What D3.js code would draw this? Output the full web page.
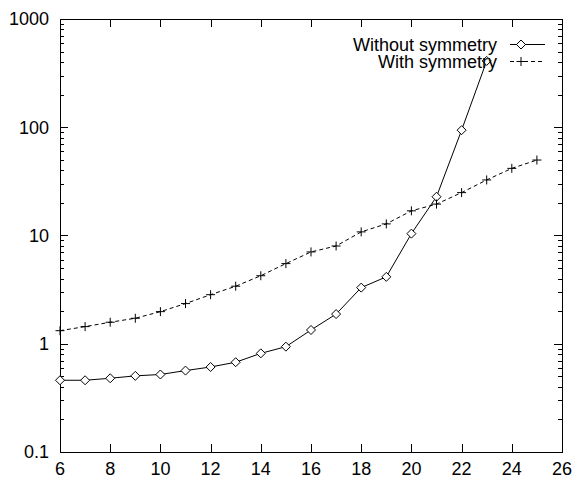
<!DOCTYPE html>
<html><head><meta charset="utf-8">
<script src="https://cdn.jsdelivr.net/npm/d3@7"></script>
<style>
body{margin:0;background:#fff;}
text{font-family:"Liberation Sans",Arial,Helvetica,sans-serif;font-size:18px;fill:#000;}
</style></head>
<body><svg id="c" width="575" height="479"></svg>
<script>
const xValues = [6,7,8,9,10,11,12,13,14,15,16,17,18,19,20,21,22,23,24,25];
const withoutSymmetry = [0.46,0.46,0.48,0.505,0.52,0.565,0.61,0.675,0.815,0.94,1.34,1.88,3.3,4.15,10.4,22.8,94,410];
const withSymmetry = [1.32,1.44,1.58,1.72,1.98,2.35,2.84,3.4,4.25,5.5,7.05,8.0,10.8,12.8,16.9,19.5,24.9,32.6,41.7,49.8];
const xTicks = [6,8,10,12,14,16,18,20,22,24,26];
const yTicks = [0.1,1,10,100,1000];
const yTickLabels = ["0.1","1","10","100","1000"];
const seriesNames = ["Without symmetry","With symmetry"];

const L=60,R=562,T=19,B=452;
const svg=d3.select("#c");
const x=d3.scaleLinear().domain([6,26]).range([L,R]);
const y=d3.scaleLog().domain([0.1,1000]).range([B,T]);

// minor ticks
const minors=[];
for(let e=-1;e<3;e++){for(let k=2;k<=9;k++)minors.push(k*Math.pow(10,e));}
const g=svg.append("g").attr("stroke","#000").attr("stroke-width",1).attr("shape-rendering","crispEdges");
minors.forEach(v=>{
  g.append("line").attr("x1",L).attr("x2",L+4).attr("y1",Math.round(y(v))+0.5).attr("y2",Math.round(y(v))+0.5);
  g.append("line").attr("x1",R-4).attr("x2",R).attr("y1",Math.round(y(v))+0.5).attr("y2",Math.round(y(v))+0.5);
});
yTicks.forEach(v=>{
  g.append("line").attr("x1",L).attr("x2",L+8).attr("y1",Math.round(y(v))+0.5).attr("y2",Math.round(y(v))+0.5);
  g.append("line").attr("x1",R-8).attr("x2",R).attr("y1",Math.round(y(v))+0.5).attr("y2",Math.round(y(v))+0.5);
});
xTicks.forEach(v=>{
  const px=Math.round(x(v))+0.5;
  g.append("line").attr("x1",px).attr("x2",px).attr("y1",B).attr("y2",B-8);
  g.append("line").attr("x1",px).attr("x2",px).attr("y1",T).attr("y2",T+8);
});
g.append("rect").attr("x",L+0.5).attr("y",T+0.5).attr("width",R-L).attr("height",B-T).attr("fill","none");

// tick labels
svg.append("g").selectAll("text").data(yTicks).join("text")
  .attr("x",49).attr("y",d=>y(d)).attr("dy","0.36em").attr("text-anchor","end")
  .text((d,i)=>yTickLabels[i]);
svg.append("g").selectAll("text").data(xTicks).join("text")
  .attr("x",d=>x(d)).attr("y",475).attr("text-anchor","middle").text(d=>d);

const line=d3.line().x(d=>x(d[0])).y(d=>y(d[1]));
const d1=withoutSymmetry.map((v,i)=>[xValues[i],v]);
const d2=withSymmetry.map((v,i)=>[xValues[i],v]);

const clip=svg.append("defs").append("clipPath").attr("id","pc");
clip.append("rect").attr("x",L).attr("y",T).attr("width",R-L).attr("height",B-T);

const plot=svg.append("g").attr("clip-path","url(#pc)");
plot.append("path").datum(d2).attr("d",line).attr("fill","none").attr("stroke","#000").attr("stroke-width",1).attr("stroke-dasharray","4,3");
plot.append("path").datum(d1).attr("d",line).attr("fill","none").attr("stroke","#000").attr("stroke-width",1);

function diamond(sel,cx,cy){
  sel.append("path").attr("d",`M${cx},${cy-4.5}L${cx+4.5},${cy}L${cx},${cy+4.5}L${cx-4.5},${cy}Z`)
    .attr("fill","#fff").attr("stroke","#000").attr("stroke-width",1);
}
function plus(sel,cx,cy){
  sel.append("path").attr("d",`M${cx-4.5},${cy}H${cx+4.5}M${cx},${cy-4.5}V${cy+4.5}`)
    .attr("stroke","#000").attr("stroke-width",1).attr("fill","none");
}
d1.forEach(d=>diamond(svg,x(d[0]),y(d[1])));
d2.forEach(d=>plus(svg,x(d[0]),y(d[1])));

// legend
const ky=[44.5,61.5];
svg.append("text").attr("x",497).attr("y",ky[0]).attr("dy","0.36em").attr("text-anchor","end").text(seriesNames[0]);
svg.append("text").attr("x",497).attr("y",ky[1]).attr("dy","0.36em").attr("text-anchor","end").text(seriesNames[1]);
svg.append("line").attr("x1",510).attr("x2",545).attr("y1",ky[0]).attr("y2",ky[0]).attr("stroke","#000");
diamond(svg,521,ky[0]);
svg.append("line").attr("x1",510).attr("x2",545).attr("y1",ky[1]).attr("y2",ky[1]).attr("stroke","#000").attr("stroke-dasharray","4,3");
plus(svg,521,ky[1]);
</script></body></html>
